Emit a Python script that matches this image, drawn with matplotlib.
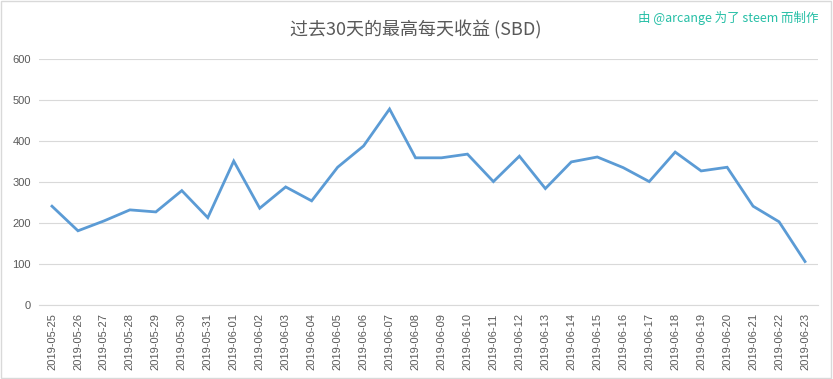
import matplotlib
matplotlib.use("Agg")
from matplotlib import pyplot as plt
from matplotlib.patches import Rectangle

dates = ["2019-05-25", "2019-05-26", "2019-05-27", "2019-05-28", "2019-05-29",
         "2019-05-30", "2019-05-31", "2019-06-01", "2019-06-02", "2019-06-03",
         "2019-06-04", "2019-06-05", "2019-06-06", "2019-06-07", "2019-06-08",
         "2019-06-09", "2019-06-10", "2019-06-11", "2019-06-12", "2019-06-13",
         "2019-06-14", "2019-06-15", "2019-06-16", "2019-06-17", "2019-06-18",
         "2019-06-19", "2019-06-20", "2019-06-21", "2019-06-22", "2019-06-23"]
sbd = [241, 181, 205, 232, 227, 279, 213, 351, 236, 288,
       254, 336, 388, 478, 359, 359, 368, 301, 363, 284,
       349, 361, 335, 301, 373, 327, 336, 241, 203, 106]
yticks = [0, 100, 200, 300, 400, 500, 600]

title = "过去30天的最高每天收益 (SBD)"
credit = "由 @arcange 为了 steem 而制作"

plt.rcParams["font.family"] = ["Noto Sans CJK SC", "DejaVu Sans"]
grey = "#595959"
grid = "#d9d9d9"

fig = plt.figure(figsize=(8.33, 3.79), dpi=100)
ax = fig.add_axes([39/833, 1 - 305/379, (818 - 39)/833, (305 - 59)/379])

x = list(range(len(dates)))
ax.plot(x, sbd, color="#5B9BD5", linewidth=2, solid_joinstyle="miter")

ax.set_xlim(-0.5, len(dates) - 0.5)
ax.set_ylim(0, 600)
ax.set_yticks(yticks)
ax.set_yticklabels([str(v) for v in yticks], fontfamily="Liberation Sans",
                   fontsize=8, color=grey)
ax.set_xticks(x)
ax.set_xticklabels(dates, rotation=90, fontfamily="Liberation Sans",
                   fontsize=8, color=grey)
ax.tick_params(length=0, pad=6)
ax.yaxis.grid(True, color=grid, linewidth=0.8)
ax.set_axisbelow(True)
for s in ["top", "right", "left"]:
    ax.spines[s].set_visible(False)
ax.spines["bottom"].set_color(grid)
ax.spines["bottom"].set_linewidth(0.8)

fig.text(416/833, 1 - 30/379, title, ha="center", va="center",
         fontsize=13, color=grey)
fig.text(818/833, 1 - 18/379, credit, ha="right", va="center",
         fontsize=9, color="#26bfa6")

fig.patches.append(Rectangle((0.001, 0.002), 0.997, 0.995, transform=fig.transFigure,
                             fill=False, edgecolor=grid, linewidth=1))

fig.savefig("out.png", dpi=100)
